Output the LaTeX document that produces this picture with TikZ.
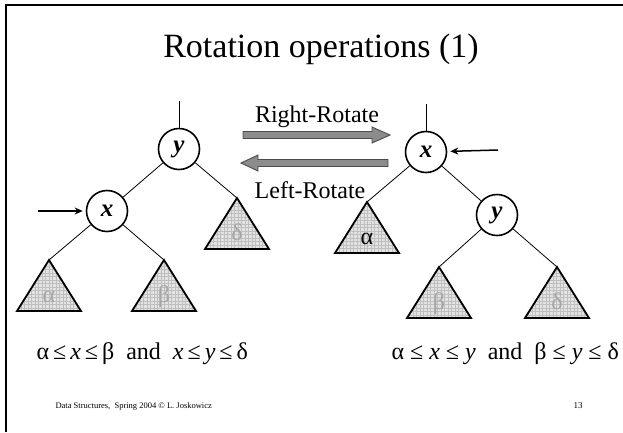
\documentclass[tikz,border=0pt]{standalone}
\usepackage{fontspec}
\setmainfont{Liberation Serif}
\usetikzlibrary{arrows.meta}
\newcommand\subtree[5]{% name, x, y, label, label colour
  \coordinate (#1) at (#2,#3);
  \begin{scope}
    \clip (#1) -- ++(-32,51) -- ++(64,0) -- cycle;
    \fill[gray!22] (#1) ++(-33,-1) rectangle ++(66,54);
    \draw[gray!50,line width=0.3pt] (#1) ++(-33,-1) grid[step=3.5pt] ++(66,54);
  \end{scope}
  \draw[line width=1.8pt,line join=miter] (#1) -- ++(-32,51) -- ++(64,0) -- cycle;
  \path (#1) ++(0,42) node[anchor=base,font=\fontsize{24}{24}\selectfont,text=#5] (#1-l) {#4};
}
\newcommand\gp{\hspace{6pt}}
\begin{document}
\begin{tikzpicture}[x=1pt,y=-1pt,
  vert/.style={circle,draw,line width=1.6pt,minimum size=41pt,inner sep=0pt,
    font=\fontsize{25}{25}\selectfont\bfseries\itshape},
  edge/.style={line width=0.8pt},
  ptr/.style={line width=1.5pt,-{Stealth[length=8pt,width=7pt]},shorten >=3pt},
  blockarrow/.style={fill=black!45,draw=black!70,line width=0.9pt,line join=miter},
  lbl/.style={anchor=base,font=\fontsize{24}{24}\selectfont},
  formula/.style={anchor=base west,font=\fontsize{24}{24}\selectfont},
  foot/.style={anchor=base west,font=\fontsize{8.5}{9}\selectfont}]
\useasboundingbox (0,0) rectangle (623,432);
% frame
\draw[line width=2.5pt] (6,432) -- (6,5) -- (623,5);
% title
\node[anchor=base,font=\fontsize{34}{34}\selectfont] (title) at (321,57) {Rotation operations (1)};
% left tree
\node[vert] (ly) at (179,149) {y};
\node[vert] (lx) at (107,211) {x};
\coordinate (ltop) at (179,101);
\draw[edge] (ltop) -- (ly);
\subtree{la}{49}{260}{α}{gray!70}
\subtree{lb}{164}{260}{β}{gray!70}
\subtree{ld}{237}{198}{δ}{gray!70}
\draw[edge] (ly) -- (lx);
\draw[edge] (ly) -- (ld);
\draw[edge] (lx) -- (la);
\draw[edge] (lx) -- (lb);
\coordinate (lp) at (38,211);
\draw[ptr] (lp) -- (lx);
% right tree
\node[vert] (rx) at (426,152) {x};
\node[vert] (ry) at (497,215) {y};
\coordinate (rtop) at (426,104);
\draw[edge] (rtop) -- (rx);
\subtree{ra}{367}{202}{α}{black}
\subtree{rb}{439}{267}{β}{gray!70}
\subtree{rd}{557}{267}{δ}{gray!70}
\draw[edge] (rx) -- (ra);
\draw[edge] (rx) -- (ry);
\draw[edge] (ry) -- (rb);
\draw[edge] (ry) -- (rd);
\coordinate (rp) at (498,150);
\draw[ptr] (rp) -- (rx);
% block arrows
\draw[blockarrow] (243,131.5) -- (372,131.5) -- (372,127) -- (390,135) -- (372,143) -- (372,138.5) -- (243,138.5) -- cycle;
\draw[blockarrow] (388,159.5) -- (258,159.5) -- (258,155) -- (241,163) -- (258,171) -- (258,166.5) -- (388,166.5) -- cycle;
\node[lbl] (rr) at (317,122) {Right-Rotate};
\node[lbl] (lr) at (310,198) {Left-Rotate};
% formulas
\node[formula] (f1) at (33,359) {α\,≤\,\textit{x}\,≤\,β\ \ and\ \ \textit{x}\,≤\,\textit{y}\,≤\,δ};
\node[formula] (f2) at (388,359) {α\gp≤\gp\textit{x}\gp≤\gp\textit{y}\ \ and\ \ β\gp≤\gp\textit{y}\gp≤\gp δ};
% footer
\node[foot] (ft) at (52,408) {Data Structures,\ \ Spring 2004 © L. Joskowicz};
\node[anchor=base,font=\fontsize{9}{9}\selectfont] (pg) at (578,408) {13};
\end{tikzpicture}
\end{document}
